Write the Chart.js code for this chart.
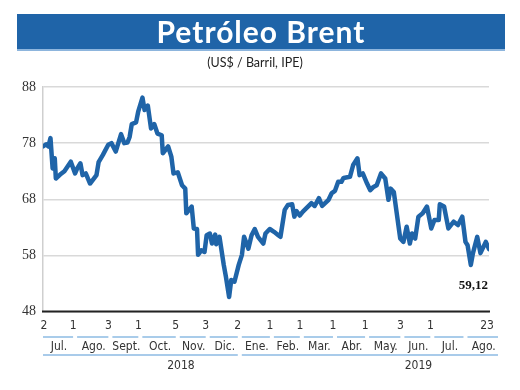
<!DOCTYPE html>
<html>
<head>
<meta charset="utf-8">
<script src="https://cdn.jsdelivr.net/npm/chart.js@4"></script>
<style>
  html, body { margin: 0; padding: 0; background: #fff; }
  #wrap { position: relative; width: 520px; height: 390px; }
  #banner {
    position: absolute; left: 17px; top: 14px; width: 488px; height: 35px;
    background: #1f64a8; border-bottom: 2px solid #8db5dd;
    color: #fff; font-family: Lato, sans-serif; font-weight: bold;
    font-size: 30px; line-height: 35px; text-align: center; letter-spacing: 1px;
  }
  #sub {
    position: absolute; left: 0; top: 55px; width: 510px; text-align: center;
    font-family: Lato, sans-serif; font-size: 12.5px; color: #222;
  }
  canvas { position: absolute; left: 0; top: 0; }
</style>
</head>
<body>
<div id="wrap">
  <canvas id="chart" width="520" height="390"></canvas>
  <div id="banner">Petróleo Brent</div>
  <div id="sub">(US$ / Barril, IPE)</div>
</div>
<script>
// Brent price
const dates = [
  "2018-07-02","2018-07-05","2018-07-07","2018-07-09","2018-07-11","2018-07-13","2018-07-14","2018-07-18",
  "2018-07-22","2018-07-28","2018-08-01","2018-08-03","2018-08-06","2018-08-08","2018-08-11","2018-08-15",
  "2018-08-21","2018-08-23","2018-08-27","2018-09-01","2018-09-04","2018-09-08","2018-09-13","2018-09-16",
  "2018-09-19","2018-09-21","2018-09-23","2018-09-27","2018-09-29","2018-10-03","2018-10-05","2018-10-08",
  "2018-10-11","2018-10-14","2018-10-17","2018-10-21","2018-10-22","2018-10-27","2018-10-30","2018-11-01",
  "2018-11-05","2018-11-09","2018-11-12","2018-11-13","2018-11-18","2018-11-20","2018-11-23","2018-11-24",
  "2018-11-27","2018-11-30","2018-12-02","2018-12-05","2018-12-07","2018-12-10","2018-12-11","2018-12-14",
  "2018-12-18","2018-12-20","2018-12-23","2018-12-25","2018-12-28","2019-01-01","2019-01-04","2019-01-06",
  "2019-01-10","2019-01-13","2019-01-16","2019-01-19","2019-01-24","2019-01-26","2019-01-30","2019-02-03",
  "2019-02-07","2019-02-09","2019-02-13","2019-02-16","2019-02-20","2019-02-22","2019-02-24","2019-02-27",
  "2019-03-02","2019-03-10","2019-03-13","2019-03-17","2019-03-20","2019-03-26","2019-03-29","2019-04-01",
  "2019-04-04","2019-04-07","2019-04-09","2019-04-15","2019-04-18","2019-04-22","2019-04-24","2019-04-27",
  "2019-05-01","2019-05-04","2019-05-07","2019-05-10","2019-05-14","2019-05-18","2019-05-21","2019-05-23",
  "2019-05-26","2019-06-01","2019-06-04","2019-06-07","2019-06-10","2019-06-12","2019-06-15","2019-06-18",
  "2019-06-22","2019-06-26","2019-06-30","2019-07-03","2019-07-07","2019-07-08","2019-07-12","2019-07-16",
  "2019-07-21","2019-07-25","2019-07-29","2019-08-01","2019-08-03","2019-08-06","2019-08-08","2019-08-12",
  "2019-08-15","2019-08-17","2019-08-20","2019-08-23"
];
const prices = [
  77.4, 77.8, 77.4, 78.9, 73.5, 75.3, 71.7, 72.4,
  73.0, 74.7, 72.6, 73.5, 74.4, 72.3, 72.6, 70.8,
  72.3, 74.6, 75.9, 77.7, 78.0, 76.5, 79.6, 78.0,
  78.1, 79.1, 81.4, 81.7, 83.6, 86.1, 83.9, 84.7,
  80.6, 81.4, 79.7, 79.4, 76.2, 77.4, 75.6, 72.6,
  72.8, 70.5, 69.9, 65.5, 66.7, 62.8, 62.7, 58.1,
  58.9, 58.6, 61.6, 61.9, 60.1, 61.7, 60.0, 61.3,
  56.3, 54.2, 50.6, 53.6, 53.3, 56.3, 58.1, 61.3,
  59.2, 61.6, 62.7, 61.3, 60.1, 61.9, 62.7, 62.2,
  61.6, 61.3, 66.1, 67.0, 67.1, 64.9, 65.9, 65.1,
  65.8, 67.3, 66.8, 68.2, 66.8, 67.9, 69.1, 69.5,
  71.1, 71.1, 71.8, 72.0, 74.1, 75.3, 72.3, 72.6,
  70.8, 69.6, 70.2, 70.5, 72.6, 71.7, 67.9, 69.9,
  69.3, 61.0, 60.4, 63.1, 60.1, 61.9, 61.0, 64.9,
  65.5, 66.7, 62.8, 64.3, 64.3, 67.1, 66.7, 62.8,
  64.0, 63.4, 64.9, 60.4, 59.8, 56.3, 58.4, 61.3,
  58.4, 59.2, 60.4, 59.12
];
const lastLabel = "59,12";

// axis labels
const yTicks = [48, 58, 68, 78, 88];
const tickDates = ["2018-07-02","2018-08-01","2018-09-03","2018-10-01","2018-11-05","2018-12-03","2019-01-02",
  "2019-02-01","2019-03-01","2019-04-01","2019-05-01","2019-06-03","2019-07-01","2019-08-01","2019-08-23"];
const tickLabels = ["2","1","3","1","5","3","2","1","1","1","1","3","1","","23"];
const monthLabels = ["Jul.","Ago.","Sept.","Oct.","Nov.","Dic.","Ene.","Feb.","Mar.","Abr.","May.","Jun.","Jul.","Ago."];
const yearLabels = ["2018", "2019"];
const yearAnchors = ["2018-11-08", "2019-06-18"];

const start = Date.UTC(2018, 6, 2);
const dayOf = (s) => {
  const p = s.split("-").map(Number);
  return Math.round((Date.UTC(p[0], p[1] - 1, p[2]) - start) / 86400000);
};

const blue = "#1f64a8";
const lightBlue = "#8dbbe3";
const narrow = "'Liberation Sans Narrow', 'DejaVu Sans Condensed', sans-serif";

const bottomAxis = {
  id: "bottomAxis",
  afterDraw(chart) {
    const ctx = chart.ctx;
    const xs = chart.scales.x;
    const area = chart.chartArea;
    const px = tickDates.map((d) => xs.getPixelForValue(dayOf(d)));
    const segEnd = area.right + 9;

    ctx.save();
    // black base line
    ctx.strokeStyle = "#222";
    ctx.lineWidth = 2;
    ctx.beginPath();
    ctx.moveTo(area.left - 1, area.bottom);
    ctx.lineTo(area.right + 1, area.bottom);
    ctx.stroke();

    // day numbers
    ctx.fillStyle = "#333";
    ctx.font = "12px " + narrow;
    ctx.textAlign = "center";
    ctx.textBaseline = "middle";
    px.forEach((x, i) => {
      if (tickLabels[i]) ctx.fillText(tickLabels[i], i === 0 ? x + 1 : x - 2, 326);
    });

    // month segments + labels
    ctx.strokeStyle = lightBlue;
    ctx.lineWidth = 1.5;
    monthLabels.forEach((m, i) => {
      const a = px[i] + (i === 0 ? 0 : 2);
      const b = i === monthLabels.length - 1 ? segEnd : px[i + 1] - 2;
      ctx.beginPath();
      ctx.moveTo(a, 337);
      ctx.lineTo(b, 337);
      ctx.stroke();
      ctx.fillText(m, (a + b) / 2 + 1, 347);
    });

    // year segments + labels
    const split = px[6];
    ctx.beginPath();
    ctx.moveTo(px[0], 355);
    ctx.lineTo(split - 2, 355);
    ctx.moveTo(split + 2, 355);
    ctx.lineTo(segEnd, 355);
    ctx.stroke();
    yearLabels.forEach((y, i) => {
      ctx.fillText(y, xs.getPixelForValue(dayOf(yearAnchors[i])), 366);
    });

    // last value
    const meta = chart.getDatasetMeta(0);
    const last = meta.data[meta.data.length - 1];
    ctx.fillStyle = "#111";
    ctx.font = "bold 13px 'Liberation Serif', serif";
    ctx.textAlign = "right";
    ctx.fillText(lastLabel, last.x - 1, last.y + 37);
    ctx.restore();
  }
};

new Chart(document.getElementById("chart"), {
  type: "line",
  data: {
    datasets: [
      {
        data: dates.map((d, i) => ({ x: dayOf(d), y: prices[i] })),
        borderColor: blue,
        borderWidth: 4.5,
        pointRadius: 0,
        tension: 0,
        borderJoinStyle: "round",
        borderCapStyle: "round"
      }
    ]
  },
  options: {
    responsive: false,
    animation: false,
    layout: { padding: { left: 0, top: 87, right: 31, bottom: 78.5 } },
    plugins: { legend: { display: false }, tooltip: { enabled: false } },
    scales: {
      x: {
        type: "linear",
        display: false,
        min: 0,
        max: dayOf(dates[dates.length - 1])
      },
      y: {
        min: 48,
        max: 88,
        afterFit: (s) => { s.width = 43; },
        afterBuildTicks: (s) => { s.ticks = yTicks.map((v) => ({ value: v })); },
        ticks: {
          color: "#333",
          padding: 7,
          font: { family: "'Liberation Serif', serif", size: 14 }
        },
        grid: { color: "#d9d9d9", lineWidth: 1.5, drawTicks: false },
        border: { color: "#cfcfcf", width: 1.5 }
      }
    }
  },
  plugins: [bottomAxis]
});
</script>
</body>
</html>
